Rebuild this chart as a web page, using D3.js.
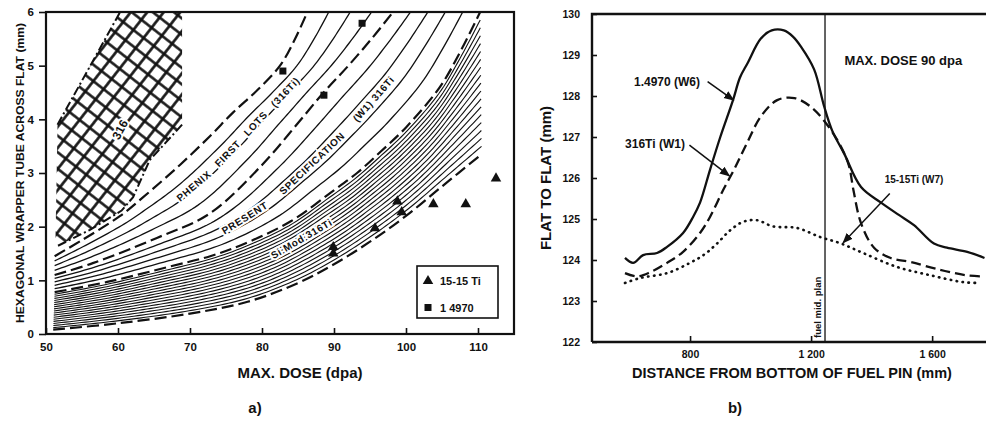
<!DOCTYPE html>
<html lang="en">
<head>
<meta charset="utf-8">
<title>Wrapper tube swelling</title>
<script src="https://d3js.org/d3.v7.min.js"></script>
<style>
  body { margin: 0; background: #fff; }
  svg text { font-family: "Liberation Sans", Arial, sans-serif; font-weight: bold; fill: #111; }
</style>
</head>
<body>
<script>
// ---------- panel a : across flat vs max dose ----------
var doseTicks = [50, 60, 70, 80, 90, 100, 110];
var flatTicks = [0, 1, 2, 3, 4, 5, 6];

// measured points (dose dpa, across flat mm)
var points1515 = [[89.9, 1.5], [89.9, 1.62], [95.7, 1.97], [98.8, 2.47], [99.4, 2.27], [103.8, 2.42], [108.3, 2.42], [112.5, 2.9]];
var points14970 = [[82.9, 4.9], [88.6, 4.45], [93.9, 5.79]];

// band boundaries (dose, mm)
var region316 = [[51.3, 1.62], [51.6, 3.9], [60.3, 6.0], [68.9, 6.0], [68.9, 3.9], [64.4, 3.24], [62.1, 2.55], [60.5, 2.3], [56.1, 1.94]];
var phenixTop = [[51.2, 1.45], [55, 1.75], [60.3, 2.2], [63.5, 2.55], [68.6, 3.15], [72.8, 3.69], [76, 4.13], [79.4, 4.55], [82.5, 5.0], [84.6, 5.5], [86.3, 6.0]];
var presentTop = [[51.2, 1.1], [56.5, 1.32], [65.4, 1.79], [72.8, 2.25], [80, 3.15], [84.5, 3.85], [88.5, 4.49], [92, 5.0], [95.4, 5.53], [98.2, 6.0]];
var siModTop = [[51.2, 0.78], [58.5, 0.97], [67, 1.25], [72.8, 1.45], [77, 1.65], [84, 2.1], [89.5, 2.63], [93.2, 3.0], [96.5, 3.4], [100, 3.85], [104.7, 4.6], [107.5, 5.25], [110.3, 6.0]];
var siModBottom = [[51, 0.08], [60, 0.2], [70, 0.38], [78, 0.6], [85, 0.95], [90, 1.3], [95, 1.72], [100, 2.2], [105, 2.75], [110.5, 3.35]];

// ---------- panel b : flat to flat vs distance ----------
var distTicks = [800, 1200, 1600];
var distTickLabels = ["800", "1 200", "1 600"];
var f2fTicks = [122, 123, 124, 125, 126, 127, 128, 129, 130];
var midPlane = 1246;

var curveW6 = [[585, 124.05], [612, 123.93], [645, 124.12], [691, 124.17], [724, 124.32], [777, 124.66], [810, 125.05], [833, 125.4], [866, 126.2], [900, 127.0], [942, 127.9], [965, 128.45], [990, 128.8], [1034, 129.4], [1070, 129.6], [1110, 129.6], [1140, 129.45], [1167, 129.2], [1210, 128.65], [1243, 127.75], [1270, 127.15], [1309, 126.6], [1365, 125.78], [1431, 125.4], [1490, 125.1], [1540, 124.85], [1606, 124.4], [1649, 124.3], [1716, 124.2], [1773, 124.05]];
var curveW1 = [[585, 123.68], [625, 123.6], [668, 123.7], [724, 123.93], [777, 124.2], [833, 124.66], [866, 125.05], [909, 125.7], [945, 126.2], [988, 126.85], [1034, 127.5], [1088, 127.9], [1145, 127.95], [1200, 127.73], [1253, 127.3], [1299, 126.76], [1325, 126.3], [1340, 125.7], [1365, 124.9], [1408, 124.3], [1463, 124.05], [1530, 123.95], [1626, 123.76], [1711, 123.63], [1768, 123.6]];
var curveW7 = [[585, 123.44], [635, 123.56], [724, 123.68], [800, 123.93], [850, 124.15], [889, 124.4], [932, 124.72], [975, 124.93], [1021, 124.97], [1074, 124.82], [1154, 124.78], [1230, 124.56], [1296, 124.41], [1372, 124.17], [1484, 123.83], [1593, 123.63], [1702, 123.46], [1759, 123.44]];

var svg = d3.select("body").append("svg").attr("width", 988).attr("height", 426);
var defs = svg.append("defs");

defs.append("marker").attr("id", "arrow")
    .attr("viewBox", "0 0 10 10").attr("refX", 9).attr("refY", 5)
    .attr("markerWidth", 7).attr("markerHeight", 7).attr("orient", "auto")
  .append("path").attr("d", "M0,1L10,5L0,9z").attr("fill", "#111");

var xh = defs.append("pattern").attr("id", "xhatch")
    .attr("patternUnits", "userSpaceOnUse").attr("width", 13).attr("height", 13)
    .attr("patternTransform", "rotate(38)");
xh.append("path").attr("d", "M0,6.5H13M6.5,0V13").attr("stroke", "#111").attr("stroke-width", 2.6);

// ================= panel a =================
var xa = d3.scaleLinear().domain([50, 115]).range([46, 514]);
var ya = d3.scaleLinear().domain([0, 6]).range([334, 12]);

defs.append("clipPath").attr("id", "clipA")
  .append("rect").attr("x", 46).attr("y", 12).attr("width", 468).attr("height", 322);

var ga = svg.append("g");
var plotA = ga.append("g").attr("clip-path", "url(#clipA)");

var lineA = d3.line().x(function(d) { return xa(d[0]); }).y(function(d) { return ya(d[1]); })
    .curve(d3.curveCatmullRom);
var linePx = d3.line().curve(d3.curveLinear);

// resample a boundary (in pixels) at equal steps along its length
function sample(pts, n) {
    var tmp = svg.append("path").attr("d", lineA(pts));
    var node = tmp.node(), len = node.getTotalLength();
    var out = d3.range(n).map(function(i) {
        var p = node.getPointAtLength(len * i / (n - 1));
        return [p.x, p.y];
    });
    tmp.remove();
    return out;
}
function blend(a, b, t) {
    return a.map(function(p, i) { return [p[0] * (1 - t) + b[i][0] * t, p[1] * (1 - t) + b[i][1] * t]; });
}

var N = 120;
var sBottom = sample(siModBottom, N), sSi = sample(siModTop, N),
    sPres = sample(presentTop, N), sPhen = sample(phenixTop, N);

// hatching, following the band boundaries
function hatch(low, up, count, width) {
    for (var k = 1; k <= count; k++) {
        plotA.append("path").attr("d", linePx(blend(low, up, k / (count + 1))))
            .attr("fill", "none").attr("stroke", "#111").attr("stroke-width", width);
    }
}
hatch(sBottom, sSi, 17, 1.1);
hatch(sSi, sPres, 4, 1.3);
hatch(sPres, sPhen, 3, 1.3);

// 316 cross-hatched region
plotA.append("path").attr("d", "M" + region316.map(function(d) { return [xa(d[0]), ya(d[1])]; }).join("L") + "Z")
    .attr("fill", "url(#xhatch)");
var edge316a = region316.slice(1, 3);
var edge316b = region316.slice(4).concat([region316[0]]);
[edge316a, edge316b].forEach(function(e) {
    plotA.append("path").attr("d", d3.line().x(function(d) { return xa(d[0]); }).y(function(d) { return ya(d[1]); })(e))
        .attr("fill", "none").attr("stroke", "#111").attr("stroke-width", 2)
        .attr("stroke-dasharray", "9,3,2,3");
});

// dashed band boundaries
[siModBottom, siModTop, presentTop, phenixTop].forEach(function(c) {
    plotA.append("path").attr("d", lineA(c))
        .attr("fill", "none").attr("stroke", "#111").attr("stroke-width", 2.2)
        .attr("stroke-dasharray", "12,5");
});

// labels along the bands, one word at a time
function bandLabel(low, up, t, startDose, words, gap) {
    var p = defs.append("path").attr("d", linePx(blend(low, up, t)));
    var node = p.node(), len = node.getTotalLength(), s = 0;
    while (s < len && node.getPointAtLength(s).x < xa(startDose)) s += 1;
    words.forEach(function(w) {
        var txt = ga.append("text").attr("font-size", 10).attr("letter-spacing", 0.7)
            .attr("text-anchor", "middle").attr("dominant-baseline", "middle")
            .attr("stroke", "#fff").attr("stroke-width", 4).attr("paint-order", "stroke")
            .text(w);
        var wl = txt.node().getComputedTextLength();
        var a = node.getPointAtLength(s), b = node.getPointAtLength(Math.min(len, s + wl)),
            c = node.getPointAtLength(Math.min(len, s + wl / 2));
        var ang = Math.atan2(b.y - a.y, b.x - a.x) * 180 / Math.PI;
        txt.attr("transform", "translate(" + c.x + "," + c.y + ") rotate(" + ang + ")");
        s += wl + gap;
    });
}
bandLabel(sPres, sPhen, 0.55, 68.3, ["PHENIX", "FIRST", "LOTS", "(316Ti)"], 10);
bandLabel(sSi, sPres, 0.5, 74.5, ["PRESENT", "SPECIFICATION", "(W1) 316Ti"], 18);
bandLabel(sBottom, sSi, 0.6, 81.2, ["Si Mod 316Ti"], 4);

ga.append("text").attr("font-size", 12)
    .attr("stroke", "#fff").attr("stroke-width", 4).attr("paint-order", "stroke")
    .attr("text-anchor", "middle").attr("dominant-baseline", "middle")
    .attr("transform", "translate(" + xa(60.4) + "," + ya(3.8) + ") rotate(-62)")
    .text("316");

// data markers
var tri = d3.symbol().type(d3.symbolTriangle).size(48);
ga.selectAll(".tri").data(points1515).join("path").attr("class", "tri")
    .attr("d", tri).attr("fill", "#111")
    .attr("transform", function(d) { return "translate(" + xa(d[0]) + "," + ya(d[1]) + ")"; });
ga.selectAll(".sq").data(points14970).join("rect").attr("class", "sq")
    .attr("x", function(d) { return xa(d[0]) - 3.5; }).attr("y", function(d) { return ya(d[1]) - 3.5; })
    .attr("width", 7).attr("height", 7).attr("fill", "#111");

// frame and axes
ga.append("rect").attr("x", 46).attr("y", 12).attr("width", 468).attr("height", 322)
    .attr("fill", "none").attr("stroke", "#111").attr("stroke-width", 2.2);
var axA = ga.append("g").attr("transform", "translate(46,0)")
    .call(d3.axisLeft(ya).tickValues(flatTicks).tickSize(7).tickPadding(5).tickFormat(d3.format("d")));
var axB = ga.append("g").attr("transform", "translate(0,334)")
    .call(d3.axisBottom(xa).tickValues(doseTicks).tickSize(-6).tickPadding(9).tickFormat(d3.format("d")));
[axA, axB].forEach(function(a) {
    a.select(".domain").remove();
    a.selectAll(".tick line").attr("stroke", "#111").attr("stroke-width", 1.6);
    a.selectAll(".tick text").attr("font-size", 11.5).attr("font-family", "Liberation Sans, Arial, sans-serif");
});

// legend
ga.append("rect").attr("x", 417).attr("y", 266).attr("width", 81).attr("height", 52)
    .attr("fill", "#fff").attr("stroke", "#111").attr("stroke-width", 1.6);
ga.append("path").attr("d", tri).attr("fill", "#111").attr("transform", "translate(428,281)");
ga.append("rect").attr("x", 424.5).attr("y", 304).attr("width", 7).attr("height", 7).attr("fill", "#111");
ga.append("text").attr("x", 440).attr("y", 285).attr("font-size", 11).text("15-15 Ti");
ga.append("text").attr("x", 440).attr("y", 312).attr("font-size", 11).text("1 4970");

// axis titles
ga.append("text").attr("transform", "translate(24,173) rotate(-90)")
    .attr("text-anchor", "middle").attr("font-size", 10.5)
    .attr("textLength", 300).attr("lengthAdjust", "spacingAndGlyphs")
    .text("HEXAGONAL WRAPPER TUBE ACROSS FLAT (mm)");
ga.append("text").attr("x", 300).attr("y", 378).attr("text-anchor", "middle")
    .attr("font-size", 15).style("font-weight", 600)
    .text("MAX. DOSE (dpa)");
ga.append("text").attr("x", 255).attr("y", 413).attr("text-anchor", "middle")
    .attr("font-size", 15).text("a)");

// ================= panel b =================
var xb = d3.scaleLinear().domain([476, 1778]).range([592, 986]);
var yb = d3.scaleLinear().domain([122, 130]).range([342, 14]);
var gb = svg.append("g");

var lineB = d3.line().x(function(d) { return xb(d[0]); }).y(function(d) { return yb(d[1]); })
    .curve(d3.curveCatmullRom);

gb.append("line").attr("x1", xb(midPlane)).attr("x2", xb(midPlane)).attr("y1", 14).attr("y2", 342)
    .attr("stroke", "#111").attr("stroke-width", 1.3);
gb.append("text").attr("transform", "translate(" + (xb(midPlane) - 4) + ",338) rotate(-90)")
    .attr("font-size", 9.5).style("font-weight", 600).text("fuel mid. plan");

gb.append("path").attr("d", lineB(curveW7)).attr("fill", "none").attr("stroke", "#111")
    .attr("stroke-width", 2.6).attr("stroke-linecap", "round").attr("stroke-dasharray", "0.5,5.5");
gb.append("path").attr("d", lineB(curveW1)).attr("fill", "none").attr("stroke", "#111")
    .attr("stroke-width", 2.3).attr("stroke-dasharray", "10,5");
gb.append("path").attr("d", lineB(curveW6)).attr("fill", "none").attr("stroke", "#111")
    .attr("stroke-width", 2.3);

// frame and axes
gb.append("path").attr("d", "M592,342V14H986").attr("fill", "none").attr("stroke", "#111").attr("stroke-width", 2.4);
gb.append("path").attr("d", "M592,342H986").attr("fill", "none").attr("stroke", "#111").attr("stroke-width", 2.4);
var bL = gb.append("g").attr("transform", "translate(592,0)")
    .call(d3.axisLeft(yb).tickValues(f2fTicks).tickSize(-5).tickPadding(12).tickFormat(d3.format("d")));
var bB = gb.append("g").attr("transform", "translate(0,342)")
    .call(d3.axisBottom(xb).tickValues(distTicks).tickSize(-6).tickPadding(9)
        .tickFormat(function(d, i) { return distTickLabels[i]; }));
[bL, bB].forEach(function(a) {
    a.select(".domain").remove();
    a.selectAll(".tick line").attr("stroke", "#111").attr("stroke-width", 1.6);
    a.selectAll(".tick text").attr("font-size", 10.5).attr("font-family", "Liberation Sans, Arial, sans-serif");
});

// annotations
function arrow(from, to) {
    gb.append("line").attr("x1", xb(from[0])).attr("y1", yb(from[1]))
        .attr("x2", xb(to[0])).attr("y2", yb(to[1]))
        .attr("stroke", "#111").attr("stroke-width", 1.5).attr("marker-end", "url(#arrow)");
}
gb.append("text").attr("x", xb(833)).attr("y", yb(128.25)).attr("text-anchor", "end")
    .attr("font-size", 12).text("1.4970 (W6)");
arrow([858, 128.35], [944, 127.9]);
gb.append("text").attr("x", xb(783)).attr("y", yb(126.73)).attr("text-anchor", "end")
    .attr("font-size", 12).text("316Ti (W1)");
arrow([798, 126.8], [930, 126.05]);
gb.append("text").attr("x", xb(1310)).attr("y", yb(128.75))
    .attr("font-size", 13).style("font-weight", 600).text("MAX. DOSE 90 dpa");
gb.append("text").attr("x", xb(1443)).attr("y", yb(125.88))
    .attr("font-size", 10).text("15-15Ti (W7)");
arrow([1460, 125.62], [1306, 124.42]);

// axis titles
gb.append("text").attr("transform", "translate(551,178) rotate(-90)")
    .attr("text-anchor", "middle").attr("font-size", 15).text("FLAT TO FLAT (mm)");
gb.append("text").attr("x", 792).attr("y", 378).attr("text-anchor", "middle")
    .attr("font-size", 14.5).text("DISTANCE FROM BOTTOM OF FUEL PIN (mm)");
gb.append("text").attr("x", 735).attr("y", 413).attr("text-anchor", "middle")
    .attr("font-size", 15).text("b)");
</script>
</body>
</html>
